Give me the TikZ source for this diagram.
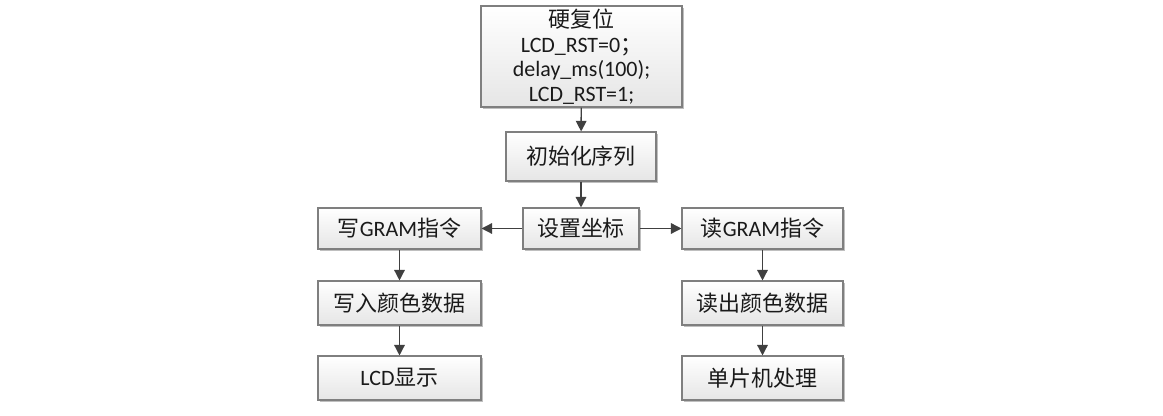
\documentclass[tikz,border=0pt]{standalone}
\usepackage{fontspec}
\setmainfont{Carlito}
\newfontfamily\cjk{Noto Sans CJK SC}
\usepackage{tikz}
\usetikzlibrary{arrows.meta,positioning,shadows,shadings}
\definecolor{lcdline}{HTML}{7F7F7F}
\definecolor{lcdarrow}{HTML}{404040}
\definecolor{lcdink}{HTML}{1A1A1A}
\begin{document}
\begin{tikzpicture}[>={Triangle[length=6pt,width=6pt]},
  font=\fontsize{12.5}{15}\selectfont,text=lcdink,
  stepbox/.style={draw=lcdline,line width=0.6pt,top color=white,bottom color=black!10,
    minimum height=0.82cm,inner sep=1pt,align=center,
    drop shadow={shadow xshift=1.2pt,shadow yshift=-1.2pt,opacity=0.25,fill=black}},
  flow/.style={->,draw=lcdarrow,line width=0.8pt}]
\path[use as bounding box] (0,0) rectangle (23.26,-8.32);
\fill[white] (0,0) rectangle (23.26,-8.32);
% 复位与初始化
\node[stepbox,minimum width=4.02cm,minimum height=2.02cm,font=\fontsize{12.5}{14}\selectfont]
  (reset) at (11.63,-1.13) {{\cjk 硬复位}\\LCD\_RST=0{\cjk ；}\\delay\_ms(100);\\LCD\_RST=1;};
\node[stepbox,minimum width=3.0cm,minimum height=0.98cm] (init) at (11.62,-3.13) {{\cjk 初始化序列}};
\node[stepbox,minimum width=2.32cm] (coord) at (11.62,-4.57) {{\cjk 设置坐标}};
% 写分支
\node[stepbox,minimum width=3.26cm] (wcmd) at (7.99,-4.57) {{\cjk 写}GRAM{\cjk 指令}};
\node[stepbox,minimum width=3.26cm,minimum height=0.88cm] (wdata) at (7.99,-6.06) {{\cjk 写入颜色数据}};
\node[stepbox,minimum width=3.26cm,minimum height=0.88cm] (lcd) at (7.99,-7.56) {LCD{\cjk 显示}};
% 读分支
\node[stepbox,minimum width=3.22cm] (rcmd) at (15.25,-4.57) {{\cjk 读}GRAM{\cjk 指令}};
\node[stepbox,minimum width=3.22cm,minimum height=0.88cm] (rdata) at (15.25,-6.06) {{\cjk 读出颜色数据}};
\node[stepbox,minimum width=3.22cm,minimum height=0.88cm] (mcu) at (15.25,-7.56) {{\cjk 单片机处理}};
\draw[flow] (reset) -- (init);
\draw[flow] (init) -- (coord);
\draw[flow] (coord) -- (wcmd);
\draw[flow] (coord) -- (rcmd);
\draw[flow] (wcmd) -- (wdata);
\draw[flow] (wdata) -- (lcd);
\draw[flow] (rcmd) -- (rdata);
\draw[flow] (rdata) -- (mcu);
\end{tikzpicture}
\end{document}
